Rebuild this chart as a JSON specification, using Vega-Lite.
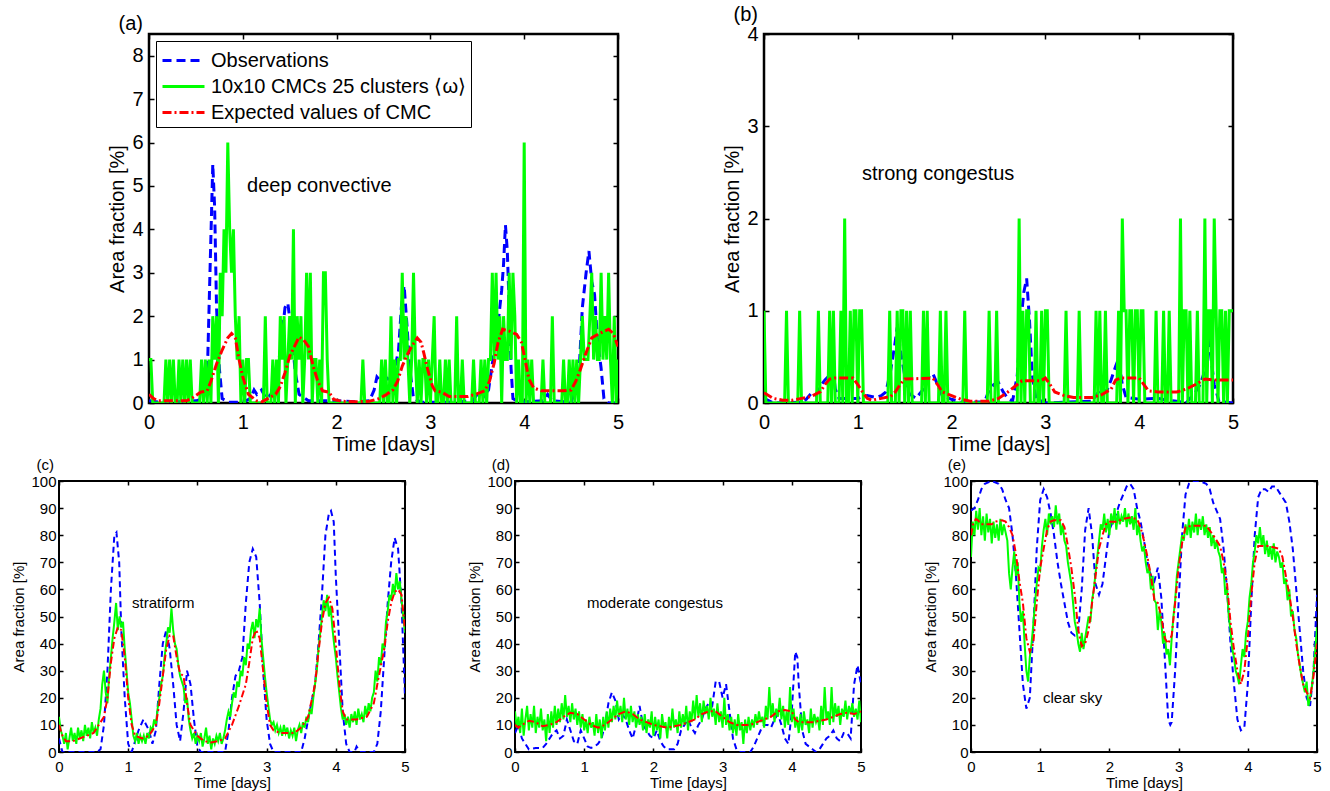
{
"$schema":"https://vega.github.io/schema/vega-lite/v6.json",
"background":"white",
"padding":{"left":10,"top":3,"right":0,"bottom":0},
"config":{"font":"Liberation Sans","view":{"stroke":"black","strokeWidth":2},
"axis":{"domain":false,"grid":false,"tickColor":"black","labelColor":"black","titleColor":"black","labelFont":"Liberation Sans","titleFont":"Liberation Sans","titleFontWeight":"normal","labelOverlap":false,"labelFlush":false,"tickWidth":1.5},
"title":{"font":"Liberation Sans","fontWeight":"normal","color":"black"},
"text":{"font":"Liberation Sans"}},
"datasets":{
"a":[
{"s":"O","t":0,"v":0.05},{"s":"O","t":0.1,"v":0.02},{"s":"O","t":0.3,"v":0.03},{"s":"O","t":0.5,"v":0.05},{"s":"O","t":0.58,"v":0.1},{"s":"O","t":0.62,"v":0.5},{"s":"O","t":0.65,"v":3},{"s":"O","t":0.68,"v":5.5},{"s":"O","t":0.7,"v":4.5},{"s":"O","t":0.72,"v":2.2},{"s":"O","t":0.75,"v":0.8},{"s":"O","t":0.78,"v":0.1},{"s":"O","t":0.85,"v":0.02},{"s":"O","t":1.0,"v":0.02},{"s":"O","t":1.08,"v":0.1},{"s":"O","t":1.12,"v":0.3},{"s":"O","t":1.15,"v":0.2},{"s":"O","t":1.2,"v":0.3},{"s":"O","t":1.25,"v":0.1},{"s":"O","t":1.3,"v":0.2},{"s":"O","t":1.35,"v":0.6},{"s":"O","t":1.4,"v":1.2},{"s":"O","t":1.45,"v":2.2},{"s":"O","t":1.48,"v":2.3},{"s":"O","t":1.52,"v":1.6},{"s":"O","t":1.56,"v":0.7},{"s":"O","t":1.6,"v":0.2},{"s":"O","t":1.7,"v":0.05},{"s":"O","t":2.0,"v":0.05},{"s":"O","t":2.2,"v":0.03},{"s":"O","t":2.35,"v":0.05},{"s":"O","t":2.4,"v":0.3},{"s":"O","t":2.43,"v":0.6},{"s":"O","t":2.47,"v":0.5},{"s":"O","t":2.52,"v":0.6},{"s":"O","t":2.58,"v":0.5},{"s":"O","t":2.62,"v":0.8},{"s":"O","t":2.66,"v":1.2},{"s":"O","t":2.69,"v":2.2},{"s":"O","t":2.72,"v":2.7},{"s":"O","t":2.75,"v":1.8},{"s":"O","t":2.78,"v":0.8},{"s":"O","t":2.82,"v":0.1},{"s":"O","t":2.9,"v":0.02},{"s":"O","t":3.2,"v":0.02},{"s":"O","t":3.45,"v":0.05},{"s":"O","t":3.5,"v":0.2},{"s":"O","t":3.53,"v":0.3},{"s":"O","t":3.57,"v":0.15},{"s":"O","t":3.62,"v":0.3},{"s":"O","t":3.66,"v":0.9},{"s":"O","t":3.7,"v":1.5},{"s":"O","t":3.73,"v":2.0},{"s":"O","t":3.76,"v":2.6},{"s":"O","t":3.78,"v":3.2},{"s":"O","t":3.8,"v":4.1},{"s":"O","t":3.82,"v":3.5},{"s":"O","t":3.84,"v":2.2},{"s":"O","t":3.86,"v":0.8},{"s":"O","t":3.88,"v":0.1},{"s":"O","t":3.95,"v":0.02},{"s":"O","t":4.2,"v":0.05},{"s":"O","t":4.25,"v":0.2},{"s":"O","t":4.3,"v":0.05},{"s":"O","t":4.5,"v":0.02},{"s":"O","t":4.58,"v":0.5},{"s":"O","t":4.62,"v":2.2},{"s":"O","t":4.66,"v":3.0},{"s":"O","t":4.69,"v":3.5},{"s":"O","t":4.72,"v":2.8},{"s":"O","t":4.75,"v":2.5},{"s":"O","t":4.78,"v":1.5},{"s":"O","t":4.82,"v":0.8},{"s":"O","t":4.85,"v":0.1},{"s":"O","t":4.9,"v":0},{"s":"O","t":5.0,"v":0},
{"s":"C","t":0,"v":1},{"s":"C","t":0.02,"v":1},{"s":"C","t":0.04,"v":0},{"s":"C","t":0.16,"v":0},{"s":"C","t":0.18,"v":1},{"s":"C","t":0.2,"v":0},{"s":"C","t":0.22,"v":1},{"s":"C","t":0.24,"v":0},{"s":"C","t":0.26,"v":1},{"s":"C","t":0.28,"v":0},{"s":"C","t":0.3,"v":0},{"s":"C","t":0.32,"v":1},{"s":"C","t":0.34,"v":0},{"s":"C","t":0.36,"v":1},{"s":"C","t":0.38,"v":0},{"s":"C","t":0.4,"v":1},{"s":"C","t":0.42,"v":0},{"s":"C","t":0.44,"v":1},{"s":"C","t":0.46,"v":0},{"s":"C","t":0.54,"v":0},{"s":"C","t":0.56,"v":1},{"s":"C","t":0.58,"v":0},{"s":"C","t":0.6,"v":1},{"s":"C","t":0.62,"v":0},{"s":"C","t":0.64,"v":1},{"s":"C","t":0.66,"v":0},{"s":"C","t":0.68,"v":2},{"s":"C","t":0.7,"v":1},{"s":"C","t":0.72,"v":2},{"s":"C","t":0.74,"v":0},{"s":"C","t":0.76,"v":3},{"s":"C","t":0.78,"v":2},{"s":"C","t":0.8,"v":4},{"s":"C","t":0.82,"v":3},{"s":"C","t":0.84,"v":6},{"s":"C","t":0.86,"v":4},{"s":"C","t":0.88,"v":3},{"s":"C","t":0.9,"v":4},{"s":"C","t":0.92,"v":2},{"s":"C","t":0.94,"v":1},{"s":"C","t":0.96,"v":2},{"s":"C","t":0.98,"v":0},{"s":"C","t":1.0,"v":1},{"s":"C","t":1.02,"v":0},{"s":"C","t":1.04,"v":1},{"s":"C","t":1.06,"v":1},{"s":"C","t":1.08,"v":0},{"s":"C","t":1.22,"v":0},{"s":"C","t":1.24,"v":2},{"s":"C","t":1.26,"v":0},{"s":"C","t":1.3,"v":0},{"s":"C","t":1.32,"v":1},{"s":"C","t":1.34,"v":0},{"s":"C","t":1.36,"v":1},{"s":"C","t":1.38,"v":0},{"s":"C","t":1.4,"v":2},{"s":"C","t":1.42,"v":1},{"s":"C","t":1.44,"v":2},{"s":"C","t":1.46,"v":0},{"s":"C","t":1.48,"v":1},{"s":"C","t":1.5,"v":2},{"s":"C","t":1.52,"v":1},{"s":"C","t":1.54,"v":4},{"s":"C","t":1.56,"v":0},{"s":"C","t":1.58,"v":2},{"s":"C","t":1.6,"v":1},{"s":"C","t":1.62,"v":2},{"s":"C","t":1.64,"v":0},{"s":"C","t":1.66,"v":1},{"s":"C","t":1.68,"v":3},{"s":"C","t":1.7,"v":1},{"s":"C","t":1.72,"v":3},{"s":"C","t":1.74,"v":0},{"s":"C","t":1.76,"v":1},{"s":"C","t":1.78,"v":1},{"s":"C","t":1.8,"v":0},{"s":"C","t":1.82,"v":1},{"s":"C","t":1.84,"v":0},{"s":"C","t":1.86,"v":3},{"s":"C","t":1.88,"v":3},{"s":"C","t":1.9,"v":1},{"s":"C","t":1.92,"v":0},{"s":"C","t":2.26,"v":0},{"s":"C","t":2.28,"v":1},{"s":"C","t":2.3,"v":0},{"s":"C","t":2.46,"v":0},{"s":"C","t":2.48,"v":1},{"s":"C","t":2.5,"v":0},{"s":"C","t":2.52,"v":1},{"s":"C","t":2.54,"v":0},{"s":"C","t":2.56,"v":0},{"s":"C","t":2.58,"v":2},{"s":"C","t":2.6,"v":0},{"s":"C","t":2.62,"v":1},{"s":"C","t":2.64,"v":0},{"s":"C","t":2.66,"v":1},{"s":"C","t":2.68,"v":1},{"s":"C","t":2.7,"v":3},{"s":"C","t":2.72,"v":1},{"s":"C","t":2.74,"v":2},{"s":"C","t":2.76,"v":1},{"s":"C","t":2.78,"v":0},{"s":"C","t":2.8,"v":1},{"s":"C","t":2.82,"v":3},{"s":"C","t":2.84,"v":1},{"s":"C","t":2.86,"v":0},{"s":"C","t":2.88,"v":1},{"s":"C","t":2.9,"v":0},{"s":"C","t":2.92,"v":1},{"s":"C","t":2.94,"v":1},{"s":"C","t":2.96,"v":0},{"s":"C","t":2.98,"v":1},{"s":"C","t":3.0,"v":0},{"s":"C","t":3.02,"v":1},{"s":"C","t":3.04,"v":2},{"s":"C","t":3.06,"v":0},{"s":"C","t":3.08,"v":0},{"s":"C","t":3.1,"v":1},{"s":"C","t":3.12,"v":0},{"s":"C","t":3.14,"v":0},{"s":"C","t":3.16,"v":1},{"s":"C","t":3.18,"v":0},{"s":"C","t":3.2,"v":1},{"s":"C","t":3.22,"v":0},{"s":"C","t":3.26,"v":0},{"s":"C","t":3.28,"v":2},{"s":"C","t":3.3,"v":0},{"s":"C","t":3.32,"v":0},{"s":"C","t":3.34,"v":1},{"s":"C","t":3.36,"v":0},{"s":"C","t":3.44,"v":0},{"s":"C","t":3.46,"v":1},{"s":"C","t":3.48,"v":0},{"s":"C","t":3.52,"v":0},{"s":"C","t":3.54,"v":1},{"s":"C","t":3.56,"v":0},{"s":"C","t":3.58,"v":1},{"s":"C","t":3.6,"v":0},{"s":"C","t":3.62,"v":1},{"s":"C","t":3.64,"v":1},{"s":"C","t":3.66,"v":3},{"s":"C","t":3.68,"v":1},{"s":"C","t":3.7,"v":3},{"s":"C","t":3.72,"v":1},{"s":"C","t":3.74,"v":2},{"s":"C","t":3.76,"v":0},{"s":"C","t":3.78,"v":2},{"s":"C","t":3.8,"v":1},{"s":"C","t":3.82,"v":1},{"s":"C","t":3.84,"v":3},{"s":"C","t":3.86,"v":1},{"s":"C","t":3.88,"v":3},{"s":"C","t":3.9,"v":2},{"s":"C","t":3.92,"v":0},{"s":"C","t":3.94,"v":1},{"s":"C","t":3.96,"v":0},{"s":"C","t":3.98,"v":0},{"s":"C","t":4.0,"v":6},{"s":"C","t":4.02,"v":0},{"s":"C","t":4.04,"v":1},{"s":"C","t":4.06,"v":0},{"s":"C","t":4.08,"v":1},{"s":"C","t":4.1,"v":0},{"s":"C","t":4.18,"v":0},{"s":"C","t":4.2,"v":1},{"s":"C","t":4.22,"v":0},{"s":"C","t":4.28,"v":0},{"s":"C","t":4.3,"v":2},{"s":"C","t":4.32,"v":0},{"s":"C","t":4.4,"v":0},{"s":"C","t":4.42,"v":1},{"s":"C","t":4.44,"v":0},{"s":"C","t":4.46,"v":0},{"s":"C","t":4.48,"v":1},{"s":"C","t":4.5,"v":0},{"s":"C","t":4.52,"v":1},{"s":"C","t":4.54,"v":0},{"s":"C","t":4.56,"v":1},{"s":"C","t":4.58,"v":0},{"s":"C","t":4.6,"v":1},{"s":"C","t":4.62,"v":2},{"s":"C","t":4.64,"v":1},{"s":"C","t":4.66,"v":1},{"s":"C","t":4.68,"v":1},{"s":"C","t":4.7,"v":2},{"s":"C","t":4.72,"v":3},{"s":"C","t":4.74,"v":1},{"s":"C","t":4.76,"v":2},{"s":"C","t":4.78,"v":1},{"s":"C","t":4.8,"v":1},{"s":"C","t":4.82,"v":3},{"s":"C","t":4.84,"v":1},{"s":"C","t":4.86,"v":2},{"s":"C","t":4.88,"v":1},{"s":"C","t":4.9,"v":3},{"s":"C","t":4.92,"v":1},{"s":"C","t":4.94,"v":0},{"s":"C","t":4.96,"v":2},{"s":"C","t":4.98,"v":0},{"s":"C","t":5.0,"v":1},
{"s":"E","t":0,"v":0.2},{"s":"E","t":0.05,"v":0.1},{"s":"E","t":0.1,"v":0.05},{"s":"E","t":0.4,"v":0.05},{"s":"E","t":0.45,"v":0.1},{"s":"E","t":0.55,"v":0.25},{"s":"E","t":0.62,"v":0.28},{"s":"E","t":0.66,"v":0.5},{"s":"E","t":0.72,"v":0.9},{"s":"E","t":0.78,"v":1.22},{"s":"E","t":0.84,"v":1.5},{"s":"E","t":0.88,"v":1.6},{"s":"E","t":0.92,"v":1.5},{"s":"E","t":0.96,"v":1.0},{"s":"E","t":1.0,"v":0.6},{"s":"E","t":1.03,"v":0.4},{"s":"E","t":1.06,"v":0.2},{"s":"E","t":1.15,"v":0.05},{"s":"E","t":1.2,"v":0.02},{"s":"E","t":1.28,"v":0.12},{"s":"E","t":1.35,"v":0.2},{"s":"E","t":1.4,"v":0.38},{"s":"E","t":1.45,"v":0.7},{"s":"E","t":1.5,"v":1.08},{"s":"E","t":1.55,"v":1.3},{"s":"E","t":1.6,"v":1.52},{"s":"E","t":1.65,"v":1.45},{"s":"E","t":1.7,"v":1.3},{"s":"E","t":1.75,"v":0.85},{"s":"E","t":1.8,"v":0.5},{"s":"E","t":1.85,"v":0.28},{"s":"E","t":1.92,"v":0.25},{"s":"E","t":1.97,"v":0.08},{"s":"E","t":2.05,"v":0.04},{"s":"E","t":2.2,"v":0.03},{"s":"E","t":2.35,"v":0.04},{"s":"E","t":2.45,"v":0.1},{"s":"E","t":2.52,"v":0.18},{"s":"E","t":2.6,"v":0.3},{"s":"E","t":2.65,"v":0.5},{"s":"E","t":2.7,"v":0.85},{"s":"E","t":2.75,"v":1.1},{"s":"E","t":2.8,"v":1.3},{"s":"E","t":2.86,"v":1.5},{"s":"E","t":2.9,"v":1.4},{"s":"E","t":2.93,"v":1.15},{"s":"E","t":2.97,"v":0.78},{"s":"E","t":3.02,"v":0.4},{"s":"E","t":3.05,"v":0.28},{"s":"E","t":3.12,"v":0.25},{"s":"E","t":3.2,"v":0.15},{"s":"E","t":3.4,"v":0.15},{"s":"E","t":3.48,"v":0.2},{"s":"E","t":3.58,"v":0.28},{"s":"E","t":3.63,"v":0.5},{"s":"E","t":3.68,"v":0.92},{"s":"E","t":3.72,"v":1.38},{"s":"E","t":3.77,"v":1.7},{"s":"E","t":3.85,"v":1.65},{"s":"E","t":3.92,"v":1.58},{"s":"E","t":3.97,"v":1.4},{"s":"E","t":4.0,"v":1.1},{"s":"E","t":4.05,"v":0.55},{"s":"E","t":4.1,"v":0.35},{"s":"E","t":4.18,"v":0.28},{"s":"E","t":4.42,"v":0.28},{"s":"E","t":4.5,"v":0.3},{"s":"E","t":4.55,"v":0.5},{"s":"E","t":4.6,"v":0.78},{"s":"E","t":4.65,"v":1.1},{"s":"E","t":4.72,"v":1.5},{"s":"E","t":4.8,"v":1.6},{"s":"E","t":4.9,"v":1.7},{"s":"E","t":4.95,"v":1.6},{"s":"E","t":5.0,"v":1.3}
],
"b":[
{"s":"O","t":0,"v":0.05},{"s":"O","t":0.1,"v":0},{"s":"O","t":0.4,"v":0.01},{"s":"O","t":0.45,"v":0.04},{"s":"O","t":0.5,"v":0.1},{"s":"O","t":0.55,"v":0.08},{"s":"O","t":0.6,"v":0.18},{"s":"O","t":0.65,"v":0.25},{"s":"O","t":0.7,"v":0.3},{"s":"O","t":0.73,"v":0.42},{"s":"O","t":0.76,"v":0.15},{"s":"O","t":0.8,"v":0.05},{"s":"O","t":1.0,"v":0.05},{"s":"O","t":1.1,"v":0.08},{"s":"O","t":1.2,"v":0.06},{"s":"O","t":1.25,"v":0.08},{"s":"O","t":1.3,"v":0.12},{"s":"O","t":1.35,"v":0.35},{"s":"O","t":1.39,"v":0.6},{"s":"O","t":1.42,"v":0.82},{"s":"O","t":1.45,"v":0.6},{"s":"O","t":1.5,"v":0.3},{"s":"O","t":1.55,"v":0.1},{"s":"O","t":1.62,"v":0.05},{"s":"O","t":1.7,"v":0.15},{"s":"O","t":1.75,"v":0.28},{"s":"O","t":1.8,"v":0.32},{"s":"O","t":1.85,"v":0.2},{"s":"O","t":1.9,"v":0.08},{"s":"O","t":2.0,"v":0.04},{"s":"O","t":2.1,"v":0.01},{"s":"O","t":2.35,"v":0.01},{"s":"O","t":2.4,"v":0.14},{"s":"O","t":2.45,"v":0.2},{"s":"O","t":2.5,"v":0.22},{"s":"O","t":2.55,"v":0.12},{"s":"O","t":2.6,"v":0.05},{"s":"O","t":2.65,"v":0.02},{"s":"O","t":2.7,"v":0.3},{"s":"O","t":2.74,"v":0.9},{"s":"O","t":2.77,"v":1.2},{"s":"O","t":2.8,"v":1.35},{"s":"O","t":2.83,"v":0.9},{"s":"O","t":2.86,"v":0.3},{"s":"O","t":2.9,"v":0.05},{"s":"O","t":3.0,"v":0},{"s":"O","t":3.5,"v":0.02},{"s":"O","t":3.55,"v":0.1},{"s":"O","t":3.6,"v":0.16},{"s":"O","t":3.65,"v":0.12},{"s":"O","t":3.7,"v":0.25},{"s":"O","t":3.75,"v":0.4},{"s":"O","t":3.78,"v":0.48},{"s":"O","t":3.82,"v":0.2},{"s":"O","t":3.86,"v":0.06},{"s":"O","t":4.0,"v":0.04},{"s":"O","t":4.2,"v":0.05},{"s":"O","t":4.3,"v":0.03},{"s":"O","t":4.4,"v":0.02},{"s":"O","t":4.5,"v":0},{"s":"O","t":4.6,"v":0.12},{"s":"O","t":4.65,"v":0.2},{"s":"O","t":4.7,"v":0.35},{"s":"O","t":4.74,"v":0.7},{"s":"O","t":4.77,"v":0.45},{"s":"O","t":4.8,"v":0.2},{"s":"O","t":4.85,"v":0.02},{"s":"O","t":5.0,"v":0},
{"s":"C","t":0,"v":1},{"s":"C","t":0.02,"v":0},{"s":"C","t":0.22,"v":0},{"s":"C","t":0.24,"v":1},{"s":"C","t":0.26,"v":0},{"s":"C","t":0.36,"v":0},{"s":"C","t":0.38,"v":1},{"s":"C","t":0.4,"v":0},{"s":"C","t":0.56,"v":0},{"s":"C","t":0.58,"v":1},{"s":"C","t":0.6,"v":0},{"s":"C","t":0.68,"v":0},{"s":"C","t":0.7,"v":1},{"s":"C","t":0.72,"v":0},{"s":"C","t":0.74,"v":1},{"s":"C","t":0.76,"v":0},{"s":"C","t":0.8,"v":0},{"s":"C","t":0.82,"v":1},{"s":"C","t":0.84,"v":0},{"s":"C","t":0.86,"v":2},{"s":"C","t":0.88,"v":0},{"s":"C","t":0.9,"v":0},{"s":"C","t":0.92,"v":1},{"s":"C","t":0.94,"v":0},{"s":"C","t":0.96,"v":1},{"s":"C","t":0.98,"v":1},{"s":"C","t":1.0,"v":0},{"s":"C","t":1.02,"v":1},{"s":"C","t":1.04,"v":1},{"s":"C","t":1.06,"v":0},{"s":"C","t":1.32,"v":0},{"s":"C","t":1.34,"v":1},{"s":"C","t":1.36,"v":0},{"s":"C","t":1.4,"v":0},{"s":"C","t":1.42,"v":1},{"s":"C","t":1.44,"v":0},{"s":"C","t":1.46,"v":1},{"s":"C","t":1.48,"v":1},{"s":"C","t":1.5,"v":0},{"s":"C","t":1.52,"v":1},{"s":"C","t":1.54,"v":0},{"s":"C","t":1.56,"v":1},{"s":"C","t":1.58,"v":0},{"s":"C","t":1.68,"v":0},{"s":"C","t":1.7,"v":1},{"s":"C","t":1.72,"v":0},{"s":"C","t":1.74,"v":1},{"s":"C","t":1.76,"v":0},{"s":"C","t":1.86,"v":0},{"s":"C","t":1.88,"v":1},{"s":"C","t":1.9,"v":0},{"s":"C","t":1.92,"v":0},{"s":"C","t":1.94,"v":1},{"s":"C","t":1.96,"v":0},{"s":"C","t":2.12,"v":0},{"s":"C","t":2.14,"v":1},{"s":"C","t":2.16,"v":0},{"s":"C","t":2.38,"v":0},{"s":"C","t":2.4,"v":1},{"s":"C","t":2.42,"v":0},{"s":"C","t":2.46,"v":0},{"s":"C","t":2.48,"v":1},{"s":"C","t":2.5,"v":0},{"s":"C","t":2.7,"v":0},{"s":"C","t":2.72,"v":2},{"s":"C","t":2.74,"v":0},{"s":"C","t":2.76,"v":1},{"s":"C","t":2.78,"v":0},{"s":"C","t":2.8,"v":1},{"s":"C","t":2.82,"v":1},{"s":"C","t":2.84,"v":0},{"s":"C","t":2.88,"v":0},{"s":"C","t":2.9,"v":1},{"s":"C","t":2.92,"v":0},{"s":"C","t":2.94,"v":0},{"s":"C","t":2.96,"v":1},{"s":"C","t":2.98,"v":0},{"s":"C","t":3.0,"v":1},{"s":"C","t":3.02,"v":1},{"s":"C","t":3.04,"v":0},{"s":"C","t":3.2,"v":0},{"s":"C","t":3.22,"v":1},{"s":"C","t":3.24,"v":0},{"s":"C","t":3.34,"v":0},{"s":"C","t":3.36,"v":1},{"s":"C","t":3.38,"v":0},{"s":"C","t":3.52,"v":0},{"s":"C","t":3.54,"v":1},{"s":"C","t":3.56,"v":0},{"s":"C","t":3.58,"v":1},{"s":"C","t":3.6,"v":0},{"s":"C","t":3.62,"v":0},{"s":"C","t":3.64,"v":1},{"s":"C","t":3.66,"v":0},{"s":"C","t":3.76,"v":0},{"s":"C","t":3.78,"v":1},{"s":"C","t":3.8,"v":0},{"s":"C","t":3.82,"v":2},{"s":"C","t":3.84,"v":1},{"s":"C","t":3.86,"v":1},{"s":"C","t":3.88,"v":0},{"s":"C","t":3.9,"v":1},{"s":"C","t":3.92,"v":1},{"s":"C","t":3.94,"v":0},{"s":"C","t":3.96,"v":1},{"s":"C","t":3.98,"v":1},{"s":"C","t":4.0,"v":0},{"s":"C","t":4.02,"v":1},{"s":"C","t":4.04,"v":1},{"s":"C","t":4.06,"v":0},{"s":"C","t":4.16,"v":0},{"s":"C","t":4.18,"v":1},{"s":"C","t":4.2,"v":0},{"s":"C","t":4.24,"v":0},{"s":"C","t":4.26,"v":1},{"s":"C","t":4.28,"v":0},{"s":"C","t":4.3,"v":0},{"s":"C","t":4.32,"v":1},{"s":"C","t":4.34,"v":0},{"s":"C","t":4.42,"v":0},{"s":"C","t":4.44,"v":2},{"s":"C","t":4.46,"v":0},{"s":"C","t":4.48,"v":1},{"s":"C","t":4.5,"v":1},{"s":"C","t":4.52,"v":0},{"s":"C","t":4.54,"v":1},{"s":"C","t":4.56,"v":0},{"s":"C","t":4.6,"v":0},{"s":"C","t":4.62,"v":1},{"s":"C","t":4.64,"v":0},{"s":"C","t":4.68,"v":0},{"s":"C","t":4.7,"v":2},{"s":"C","t":4.72,"v":0},{"s":"C","t":4.74,"v":1},{"s":"C","t":4.76,"v":1},{"s":"C","t":4.78,"v":0},{"s":"C","t":4.8,"v":2},{"s":"C","t":4.82,"v":1},{"s":"C","t":4.84,"v":0},{"s":"C","t":4.86,"v":1},{"s":"C","t":4.88,"v":1},{"s":"C","t":4.9,"v":0},{"s":"C","t":4.92,"v":1},{"s":"C","t":4.94,"v":0},{"s":"C","t":4.96,"v":1},{"s":"C","t":4.98,"v":1},{"s":"C","t":5.0,"v":1},
{"s":"E","t":0,"v":0.11},{"s":"E","t":0.1,"v":0.05},{"s":"E","t":0.2,"v":0.03},{"s":"E","t":0.3,"v":0.03},{"s":"E","t":0.4,"v":0.05},{"s":"E","t":0.5,"v":0.07},{"s":"E","t":0.6,"v":0.12},{"s":"E","t":0.65,"v":0.2},{"s":"E","t":0.7,"v":0.26},{"s":"E","t":0.75,"v":0.27},{"s":"E","t":0.95,"v":0.27},{"s":"E","t":1.0,"v":0.2},{"s":"E","t":1.05,"v":0.12},{"s":"E","t":1.1,"v":0.05},{"s":"E","t":1.15,"v":0.03},{"s":"E","t":1.25,"v":0.05},{"s":"E","t":1.35,"v":0.07},{"s":"E","t":1.4,"v":0.12},{"s":"E","t":1.45,"v":0.2},{"s":"E","t":1.5,"v":0.26},{"s":"E","t":1.8,"v":0.27},{"s":"E","t":1.85,"v":0.2},{"s":"E","t":1.9,"v":0.12},{"s":"E","t":2.0,"v":0.08},{"s":"E","t":2.1,"v":0.04},{"s":"E","t":2.2,"v":0.02},{"s":"E","t":2.4,"v":0.02},{"s":"E","t":2.5,"v":0.05},{"s":"E","t":2.6,"v":0.12},{"s":"E","t":2.7,"v":0.2},{"s":"E","t":2.75,"v":0.24},{"s":"E","t":2.95,"v":0.24},{"s":"E","t":3.0,"v":0.27},{"s":"E","t":3.05,"v":0.2},{"s":"E","t":3.1,"v":0.12},{"s":"E","t":3.2,"v":0.08},{"s":"E","t":3.3,"v":0.06},{"s":"E","t":3.5,"v":0.06},{"s":"E","t":3.6,"v":0.09},{"s":"E","t":3.7,"v":0.15},{"s":"E","t":3.75,"v":0.25},{"s":"E","t":3.8,"v":0.27},{"s":"E","t":4.0,"v":0.27},{"s":"E","t":4.05,"v":0.2},{"s":"E","t":4.1,"v":0.13},{"s":"E","t":4.2,"v":0.12},{"s":"E","t":4.4,"v":0.12},{"s":"E","t":4.5,"v":0.15},{"s":"E","t":4.6,"v":0.2},{"s":"E","t":4.7,"v":0.26},{"s":"E","t":4.8,"v":0.25},{"s":"E","t":5.0,"v":0.25}
],
"c":[
{"s":"O","t":0,"v":5},{"s":"O","t":0.05,"v":0},{"s":"O","t":0.55,"v":0},{"s":"O","t":0.6,"v":1},{"s":"O","t":0.65,"v":10},{"s":"O","t":0.7,"v":30},{"s":"O","t":0.75,"v":60},{"s":"O","t":0.8,"v":80},{"s":"O","t":0.83,"v":81},{"s":"O","t":0.87,"v":70},{"s":"O","t":0.9,"v":45},{"s":"O","t":0.95,"v":20},{"s":"O","t":1.0,"v":3},{"s":"O","t":1.05,"v":0},{"s":"O","t":1.1,"v":4},{"s":"O","t":1.15,"v":8},{"s":"O","t":1.22,"v":12},{"s":"O","t":1.3,"v":8},{"s":"O","t":1.35,"v":3},{"s":"O","t":1.4,"v":8},{"s":"O","t":1.45,"v":25},{"s":"O","t":1.5,"v":40},{"s":"O","t":1.55,"v":45},{"s":"O","t":1.6,"v":38},{"s":"O","t":1.65,"v":25},{"s":"O","t":1.7,"v":10},{"s":"O","t":1.75,"v":4},{"s":"O","t":1.8,"v":15},{"s":"O","t":1.85,"v":30},{"s":"O","t":1.9,"v":25},{"s":"O","t":1.95,"v":12},{"s":"O","t":2.0,"v":2},{"s":"O","t":2.05,"v":0},{"s":"O","t":2.4,"v":0},{"s":"O","t":2.45,"v":8},{"s":"O","t":2.5,"v":20},{"s":"O","t":2.55,"v":28},{"s":"O","t":2.6,"v":30},{"s":"O","t":2.65,"v":35},{"s":"O","t":2.7,"v":55},{"s":"O","t":2.75,"v":70},{"s":"O","t":2.8,"v":75},{"s":"O","t":2.85,"v":72},{"s":"O","t":2.9,"v":55},{"s":"O","t":2.95,"v":30},{"s":"O","t":3.0,"v":12},{"s":"O","t":3.05,"v":3},{"s":"O","t":3.1,"v":0},{"s":"O","t":3.5,"v":0},{"s":"O","t":3.55,"v":5},{"s":"O","t":3.6,"v":12},{"s":"O","t":3.7,"v":25},{"s":"O","t":3.75,"v":40},{"s":"O","t":3.8,"v":58},{"s":"O","t":3.85,"v":80},{"s":"O","t":3.9,"v":88},{"s":"O","t":3.93,"v":89},{"s":"O","t":3.97,"v":85},{"s":"O","t":4.0,"v":65},{"s":"O","t":4.05,"v":40},{"s":"O","t":4.1,"v":15},{"s":"O","t":4.15,"v":3},{"s":"O","t":4.2,"v":0},{"s":"O","t":4.27,"v":0},{"s":"O","t":4.3,"v":2},{"s":"O","t":4.35,"v":0},{"s":"O","t":4.55,"v":0},{"s":"O","t":4.6,"v":3},{"s":"O","t":4.65,"v":15},{"s":"O","t":4.7,"v":35},{"s":"O","t":4.75,"v":55},{"s":"O","t":4.8,"v":70},{"s":"O","t":4.85,"v":79},{"s":"O","t":4.9,"v":75},{"s":"O","t":4.95,"v":55},{"s":"O","t":5.0,"v":20},
{"s":"C","t":0,"v":13},{"s":"C","t":0.025,"v":8},{"s":"C","t":0.05,"v":6},{"s":"C","t":0.075,"v":3},{"s":"C","t":0.1,"v":7},{"s":"C","t":0.125,"v":1},{"s":"C","t":0.15,"v":5},{"s":"C","t":0.175,"v":9},{"s":"C","t":0.2,"v":4},{"s":"C","t":0.225,"v":7},{"s":"C","t":0.25,"v":3},{"s":"C","t":0.275,"v":9},{"s":"C","t":0.3,"v":5},{"s":"C","t":0.325,"v":8},{"s":"C","t":0.35,"v":4},{"s":"C","t":0.375,"v":10},{"s":"C","t":0.4,"v":6},{"s":"C","t":0.425,"v":9},{"s":"C","t":0.45,"v":5},{"s":"C","t":0.475,"v":11},{"s":"C","t":0.5,"v":7},{"s":"C","t":0.525,"v":9},{"s":"C","t":0.55,"v":6},{"s":"C","t":0.575,"v":12},{"s":"C","t":0.6,"v":16},{"s":"C","t":0.625,"v":25},{"s":"C","t":0.65,"v":30},{"s":"C","t":0.675,"v":22},{"s":"C","t":0.7,"v":18},{"s":"C","t":0.725,"v":28},{"s":"C","t":0.75,"v":35},{"s":"C","t":0.775,"v":42},{"s":"C","t":0.8,"v":48},{"s":"C","t":0.825,"v":55},{"s":"C","t":0.85,"v":45},{"s":"C","t":0.875,"v":50},{"s":"C","t":0.9,"v":46},{"s":"C","t":0.925,"v":48},{"s":"C","t":0.95,"v":38},{"s":"C","t":0.975,"v":30},{"s":"C","t":1.0,"v":22},{"s":"C","t":1.025,"v":18},{"s":"C","t":1.05,"v":12},{"s":"C","t":1.075,"v":6},{"s":"C","t":1.1,"v":4},{"s":"C","t":1.125,"v":7},{"s":"C","t":1.15,"v":3},{"s":"C","t":1.175,"v":6},{"s":"C","t":1.2,"v":4},{"s":"C","t":1.225,"v":6},{"s":"C","t":1.25,"v":3},{"s":"C","t":1.275,"v":7},{"s":"C","t":1.3,"v":5},{"s":"C","t":1.325,"v":9},{"s":"C","t":1.35,"v":8},{"s":"C","t":1.375,"v":12},{"s":"C","t":1.4,"v":10},{"s":"C","t":1.425,"v":16},{"s":"C","t":1.45,"v":20},{"s":"C","t":1.475,"v":25},{"s":"C","t":1.5,"v":28},{"s":"C","t":1.525,"v":35},{"s":"C","t":1.55,"v":40},{"s":"C","t":1.575,"v":46},{"s":"C","t":1.6,"v":44},{"s":"C","t":1.625,"v":53},{"s":"C","t":1.65,"v":45},{"s":"C","t":1.675,"v":40},{"s":"C","t":1.7,"v":38},{"s":"C","t":1.725,"v":32},{"s":"C","t":1.75,"v":28},{"s":"C","t":1.775,"v":26},{"s":"C","t":1.8,"v":24},{"s":"C","t":1.825,"v":18},{"s":"C","t":1.85,"v":20},{"s":"C","t":1.875,"v":12},{"s":"C","t":1.9,"v":8},{"s":"C","t":1.925,"v":5},{"s":"C","t":1.95,"v":7},{"s":"C","t":1.975,"v":3},{"s":"C","t":2.0,"v":6},{"s":"C","t":2.025,"v":4},{"s":"C","t":2.05,"v":7},{"s":"C","t":2.075,"v":2},{"s":"C","t":2.1,"v":5},{"s":"C","t":2.125,"v":9},{"s":"C","t":2.15,"v":3},{"s":"C","t":2.175,"v":6},{"s":"C","t":2.2,"v":1},{"s":"C","t":2.225,"v":5},{"s":"C","t":2.25,"v":3},{"s":"C","t":2.275,"v":6},{"s":"C","t":2.3,"v":4},{"s":"C","t":2.325,"v":7},{"s":"C","t":2.35,"v":3},{"s":"C","t":2.375,"v":5},{"s":"C","t":2.4,"v":8},{"s":"C","t":2.425,"v":12},{"s":"C","t":2.45,"v":15},{"s":"C","t":2.475,"v":13},{"s":"C","t":2.5,"v":18},{"s":"C","t":2.525,"v":22},{"s":"C","t":2.55,"v":20},{"s":"C","t":2.575,"v":26},{"s":"C","t":2.6,"v":24},{"s":"C","t":2.625,"v":30},{"s":"C","t":2.65,"v":28},{"s":"C","t":2.675,"v":35},{"s":"C","t":2.7,"v":32},{"s":"C","t":2.725,"v":40},{"s":"C","t":2.75,"v":38},{"s":"C","t":2.775,"v":45},{"s":"C","t":2.8,"v":48},{"s":"C","t":2.825,"v":42},{"s":"C","t":2.85,"v":49},{"s":"C","t":2.875,"v":46},{"s":"C","t":2.9,"v":53},{"s":"C","t":2.925,"v":42},{"s":"C","t":2.95,"v":35},{"s":"C","t":2.975,"v":28},{"s":"C","t":3.0,"v":22},{"s":"C","t":3.025,"v":17},{"s":"C","t":3.05,"v":12},{"s":"C","t":3.075,"v":10},{"s":"C","t":3.1,"v":11},{"s":"C","t":3.125,"v":8},{"s":"C","t":3.15,"v":10},{"s":"C","t":3.175,"v":7},{"s":"C","t":3.2,"v":9},{"s":"C","t":3.225,"v":6},{"s":"C","t":3.25,"v":10},{"s":"C","t":3.275,"v":7},{"s":"C","t":3.3,"v":9},{"s":"C","t":3.325,"v":5},{"s":"C","t":3.35,"v":8},{"s":"C","t":3.375,"v":6},{"s":"C","t":3.4,"v":9},{"s":"C","t":3.425,"v":4},{"s":"C","t":3.45,"v":8},{"s":"C","t":3.475,"v":10},{"s":"C","t":3.5,"v":7},{"s":"C","t":3.525,"v":11},{"s":"C","t":3.55,"v":9},{"s":"C","t":3.575,"v":13},{"s":"C","t":3.6,"v":11},{"s":"C","t":3.625,"v":16},{"s":"C","t":3.65,"v":14},{"s":"C","t":3.675,"v":20},{"s":"C","t":3.7,"v":25},{"s":"C","t":3.725,"v":30},{"s":"C","t":3.75,"v":38},{"s":"C","t":3.775,"v":44},{"s":"C","t":3.8,"v":50},{"s":"C","t":3.825,"v":56},{"s":"C","t":3.85,"v":52},{"s":"C","t":3.875,"v":58},{"s":"C","t":3.9,"v":50},{"s":"C","t":3.925,"v":54},{"s":"C","t":3.95,"v":46},{"s":"C","t":3.975,"v":40},{"s":"C","t":4.0,"v":35},{"s":"C","t":4.025,"v":28},{"s":"C","t":4.05,"v":22},{"s":"C","t":4.075,"v":16},{"s":"C","t":4.1,"v":12},{"s":"C","t":4.125,"v":14},{"s":"C","t":4.15,"v":10},{"s":"C","t":4.175,"v":13},{"s":"C","t":4.2,"v":9},{"s":"C","t":4.225,"v":14},{"s":"C","t":4.25,"v":11},{"s":"C","t":4.275,"v":15},{"s":"C","t":4.3,"v":10},{"s":"C","t":4.325,"v":16},{"s":"C","t":4.35,"v":12},{"s":"C","t":4.375,"v":14},{"s":"C","t":4.4,"v":11},{"s":"C","t":4.425,"v":17},{"s":"C","t":4.45,"v":13},{"s":"C","t":4.475,"v":18},{"s":"C","t":4.5,"v":15},{"s":"C","t":4.525,"v":20},{"s":"C","t":4.55,"v":22},{"s":"C","t":4.575,"v":30},{"s":"C","t":4.6,"v":26},{"s":"C","t":4.625,"v":35},{"s":"C","t":4.65,"v":32},{"s":"C","t":4.675,"v":40},{"s":"C","t":4.7,"v":38},{"s":"C","t":4.725,"v":48},{"s":"C","t":4.75,"v":52},{"s":"C","t":4.775,"v":58},{"s":"C","t":4.8,"v":56},{"s":"C","t":4.825,"v":62},{"s":"C","t":4.85,"v":58},{"s":"C","t":4.875,"v":66},{"s":"C","t":4.9,"v":60},{"s":"C","t":4.925,"v":63},{"s":"C","t":4.95,"v":56},{"s":"C","t":4.975,"v":50},{"s":"C","t":5.0,"v":44},
{"s":"E","t":0,"v":10},{"s":"E","t":0.05,"v":6},{"s":"E","t":0.1,"v":4},{"s":"E","t":0.2,"v":4},{"s":"E","t":0.3,"v":5},{"s":"E","t":0.4,"v":6},{"s":"E","t":0.5,"v":7},{"s":"E","t":0.6,"v":11},{"s":"E","t":0.65,"v":13},{"s":"E","t":0.7,"v":20},{"s":"E","t":0.75,"v":33},{"s":"E","t":0.8,"v":42},{"s":"E","t":0.85,"v":46},{"s":"E","t":0.9,"v":45},{"s":"E","t":0.95,"v":35},{"s":"E","t":1.0,"v":20},{"s":"E","t":1.05,"v":10},{"s":"E","t":1.1,"v":6},{"s":"E","t":1.2,"v":5},{"s":"E","t":1.3,"v":6},{"s":"E","t":1.4,"v":10},{"s":"E","t":1.45,"v":18},{"s":"E","t":1.5,"v":28},{"s":"E","t":1.55,"v":38},{"s":"E","t":1.6,"v":43},{"s":"E","t":1.65,"v":43},{"s":"E","t":1.7,"v":35},{"s":"E","t":1.75,"v":29},{"s":"E","t":1.8,"v":28},{"s":"E","t":1.85,"v":18},{"s":"E","t":1.9,"v":10},{"s":"E","t":2.0,"v":6},{"s":"E","t":2.1,"v":4},{"s":"E","t":2.2,"v":3.5},{"s":"E","t":2.3,"v":4},{"s":"E","t":2.4,"v":5},{"s":"E","t":2.5,"v":10},{"s":"E","t":2.6,"v":17},{"s":"E","t":2.7,"v":25},{"s":"E","t":2.75,"v":33},{"s":"E","t":2.8,"v":42},{"s":"E","t":2.85,"v":45},{"s":"E","t":2.9,"v":42},{"s":"E","t":2.95,"v":30},{"s":"E","t":3.0,"v":18},{"s":"E","t":3.05,"v":10},{"s":"E","t":3.1,"v":8},{"s":"E","t":3.2,"v":7},{"s":"E","t":3.4,"v":7},{"s":"E","t":3.5,"v":9},{"s":"E","t":3.6,"v":13},{"s":"E","t":3.7,"v":25},{"s":"E","t":3.75,"v":37},{"s":"E","t":3.8,"v":48},{"s":"E","t":3.85,"v":55},{"s":"E","t":3.9,"v":57},{"s":"E","t":3.95,"v":53},{"s":"E","t":4.0,"v":40},{"s":"E","t":4.05,"v":25},{"s":"E","t":4.1,"v":15},{"s":"E","t":4.15,"v":12},{"s":"E","t":4.3,"v":12},{"s":"E","t":4.45,"v":13},{"s":"E","t":4.55,"v":18},{"s":"E","t":4.6,"v":25},{"s":"E","t":4.7,"v":38},{"s":"E","t":4.75,"v":48},{"s":"E","t":4.8,"v":55},{"s":"E","t":4.85,"v":59},{"s":"E","t":4.9,"v":60},{"s":"E","t":4.95,"v":58},{"s":"E","t":5.0,"v":45}
],
"d":[
{"s":"O","t":0,"v":7},{"s":"O","t":0.05,"v":10},{"s":"O","t":0.1,"v":5},{"s":"O","t":0.15,"v":3},{"s":"O","t":0.2,"v":1},{"s":"O","t":0.3,"v":1.5},{"s":"O","t":0.4,"v":1.5},{"s":"O","t":0.45,"v":3},{"s":"O","t":0.5,"v":5},{"s":"O","t":0.55,"v":7},{"s":"O","t":0.6,"v":8},{"s":"O","t":0.65,"v":5},{"s":"O","t":0.7,"v":6},{"s":"O","t":0.75,"v":12},{"s":"O","t":0.8,"v":8},{"s":"O","t":0.85,"v":4},{"s":"O","t":0.9,"v":3},{"s":"O","t":0.95,"v":8},{"s":"O","t":1.0,"v":5},{"s":"O","t":1.05,"v":2},{"s":"O","t":1.1,"v":1.5},{"s":"O","t":1.15,"v":2},{"s":"O","t":1.2,"v":3},{"s":"O","t":1.25,"v":5},{"s":"O","t":1.3,"v":10},{"s":"O","t":1.35,"v":18},{"s":"O","t":1.4,"v":22},{"s":"O","t":1.45,"v":19},{"s":"O","t":1.5,"v":12},{"s":"O","t":1.55,"v":14},{"s":"O","t":1.6,"v":12},{"s":"O","t":1.65,"v":8},{"s":"O","t":1.7,"v":5},{"s":"O","t":1.75,"v":10},{"s":"O","t":1.8,"v":17},{"s":"O","t":1.85,"v":10},{"s":"O","t":1.9,"v":8},{"s":"O","t":1.95,"v":6},{"s":"O","t":2.0,"v":5},{"s":"O","t":2.05,"v":8},{"s":"O","t":2.1,"v":4},{"s":"O","t":2.15,"v":2},{"s":"O","t":2.2,"v":1},{"s":"O","t":2.3,"v":1},{"s":"O","t":2.35,"v":3},{"s":"O","t":2.4,"v":8},{"s":"O","t":2.45,"v":10},{"s":"O","t":2.5,"v":12},{"s":"O","t":2.55,"v":9},{"s":"O","t":2.6,"v":7},{"s":"O","t":2.65,"v":10},{"s":"O","t":2.7,"v":12},{"s":"O","t":2.75,"v":16},{"s":"O","t":2.8,"v":18},{"s":"O","t":2.85,"v":17},{"s":"O","t":2.9,"v":26},{"s":"O","t":2.95,"v":26},{"s":"O","t":3.0,"v":20},{"s":"O","t":3.05,"v":25},{"s":"O","t":3.1,"v":15},{"s":"O","t":3.15,"v":5},{"s":"O","t":3.2,"v":1},{"s":"O","t":3.25,"v":0},{"s":"O","t":3.4,"v":0},{"s":"O","t":3.45,"v":2},{"s":"O","t":3.5,"v":5},{"s":"O","t":3.55,"v":8},{"s":"O","t":3.6,"v":10},{"s":"O","t":3.65,"v":10},{"s":"O","t":3.7,"v":9},{"s":"O","t":3.75,"v":12},{"s":"O","t":3.8,"v":14},{"s":"O","t":3.85,"v":10},{"s":"O","t":3.9,"v":5},{"s":"O","t":3.95,"v":3},{"s":"O","t":4.0,"v":15},{"s":"O","t":4.05,"v":37},{"s":"O","t":4.08,"v":35},{"s":"O","t":4.1,"v":25},{"s":"O","t":4.15,"v":8},{"s":"O","t":4.2,"v":3},{"s":"O","t":4.25,"v":2},{"s":"O","t":4.3,"v":1},{"s":"O","t":4.35,"v":0},{"s":"O","t":4.4,"v":1},{"s":"O","t":4.45,"v":3},{"s":"O","t":4.5,"v":5},{"s":"O","t":4.55,"v":6},{"s":"O","t":4.6,"v":8},{"s":"O","t":4.65,"v":5},{"s":"O","t":4.7,"v":4},{"s":"O","t":4.75,"v":7},{"s":"O","t":4.8,"v":7},{"s":"O","t":4.85,"v":5},{"s":"O","t":4.9,"v":25},{"s":"O","t":4.95,"v":32},{"s":"O","t":5.0,"v":25},
{"s":"C","t":0,"v":15},{"s":"C","t":0.025,"v":9},{"s":"C","t":0.05,"v":13},{"s":"C","t":0.075,"v":7},{"s":"C","t":0.1,"v":16},{"s":"C","t":0.125,"v":6},{"s":"C","t":0.15,"v":12},{"s":"C","t":0.175,"v":17},{"s":"C","t":0.2,"v":8},{"s":"C","t":0.225,"v":14},{"s":"C","t":0.25,"v":9},{"s":"C","t":0.275,"v":17},{"s":"C","t":0.3,"v":7},{"s":"C","t":0.325,"v":13},{"s":"C","t":0.35,"v":9},{"s":"C","t":0.375,"v":16},{"s":"C","t":0.4,"v":8},{"s":"C","t":0.425,"v":12},{"s":"C","t":0.45,"v":4},{"s":"C","t":0.475,"v":14},{"s":"C","t":0.5,"v":7},{"s":"C","t":0.525,"v":15},{"s":"C","t":0.55,"v":9},{"s":"C","t":0.575,"v":17},{"s":"C","t":0.6,"v":10},{"s":"C","t":0.625,"v":16},{"s":"C","t":0.65,"v":11},{"s":"C","t":0.675,"v":18},{"s":"C","t":0.7,"v":12},{"s":"C","t":0.725,"v":21},{"s":"C","t":0.75,"v":13},{"s":"C","t":0.775,"v":17},{"s":"C","t":0.8,"v":11},{"s":"C","t":0.825,"v":18},{"s":"C","t":0.85,"v":12},{"s":"C","t":0.875,"v":16},{"s":"C","t":0.9,"v":10},{"s":"C","t":0.925,"v":15},{"s":"C","t":0.95,"v":9},{"s":"C","t":0.975,"v":14},{"s":"C","t":1.0,"v":8},{"s":"C","t":1.025,"v":12},{"s":"C","t":1.05,"v":7},{"s":"C","t":1.075,"v":13},{"s":"C","t":1.1,"v":9},{"s":"C","t":1.125,"v":11},{"s":"C","t":1.15,"v":6},{"s":"C","t":1.175,"v":14},{"s":"C","t":1.2,"v":7},{"s":"C","t":1.225,"v":12},{"s":"C","t":1.25,"v":5},{"s":"C","t":1.275,"v":13},{"s":"C","t":1.3,"v":8},{"s":"C","t":1.325,"v":15},{"s":"C","t":1.35,"v":9},{"s":"C","t":1.375,"v":16},{"s":"C","t":1.4,"v":11},{"s":"C","t":1.425,"v":17},{"s":"C","t":1.45,"v":12},{"s":"C","t":1.475,"v":19},{"s":"C","t":1.5,"v":13},{"s":"C","t":1.525,"v":17},{"s":"C","t":1.55,"v":11},{"s":"C","t":1.575,"v":20},{"s":"C","t":1.6,"v":12},{"s":"C","t":1.625,"v":16},{"s":"C","t":1.65,"v":10},{"s":"C","t":1.675,"v":17},{"s":"C","t":1.7,"v":11},{"s":"C","t":1.725,"v":15},{"s":"C","t":1.75,"v":9},{"s":"C","t":1.775,"v":14},{"s":"C","t":1.8,"v":10},{"s":"C","t":1.825,"v":13},{"s":"C","t":1.85,"v":8},{"s":"C","t":1.875,"v":14},{"s":"C","t":1.9,"v":7},{"s":"C","t":1.925,"v":12},{"s":"C","t":1.95,"v":9},{"s":"C","t":1.975,"v":15},{"s":"C","t":2.0,"v":6},{"s":"C","t":2.025,"v":13},{"s":"C","t":2.05,"v":8},{"s":"C","t":2.075,"v":12},{"s":"C","t":2.1,"v":5},{"s":"C","t":2.125,"v":14},{"s":"C","t":2.15,"v":9},{"s":"C","t":2.175,"v":11},{"s":"C","t":2.2,"v":5},{"s":"C","t":2.225,"v":13},{"s":"C","t":2.25,"v":8},{"s":"C","t":2.275,"v":16},{"s":"C","t":2.3,"v":9},{"s":"C","t":2.325,"v":12},{"s":"C","t":2.35,"v":7},{"s":"C","t":2.375,"v":15},{"s":"C","t":2.4,"v":9},{"s":"C","t":2.425,"v":14},{"s":"C","t":2.45,"v":10},{"s":"C","t":2.475,"v":17},{"s":"C","t":2.5,"v":8},{"s":"C","t":2.525,"v":15},{"s":"C","t":2.55,"v":11},{"s":"C","t":2.575,"v":19},{"s":"C","t":2.6,"v":12},{"s":"C","t":2.625,"v":21},{"s":"C","t":2.65,"v":13},{"s":"C","t":2.675,"v":18},{"s":"C","t":2.7,"v":11},{"s":"C","t":2.725,"v":19},{"s":"C","t":2.75,"v":14},{"s":"C","t":2.775,"v":17},{"s":"C","t":2.8,"v":12},{"s":"C","t":2.825,"v":20},{"s":"C","t":2.85,"v":13},{"s":"C","t":2.875,"v":16},{"s":"C","t":2.9,"v":10},{"s":"C","t":2.925,"v":18},{"s":"C","t":2.95,"v":11},{"s":"C","t":2.975,"v":15},{"s":"C","t":3.0,"v":9},{"s":"C","t":3.025,"v":20},{"s":"C","t":3.05,"v":10},{"s":"C","t":3.075,"v":14},{"s":"C","t":3.1,"v":8},{"s":"C","t":3.125,"v":13},{"s":"C","t":3.15,"v":7},{"s":"C","t":3.175,"v":12},{"s":"C","t":3.2,"v":6},{"s":"C","t":3.225,"v":14},{"s":"C","t":3.25,"v":8},{"s":"C","t":3.275,"v":11},{"s":"C","t":3.3,"v":3},{"s":"C","t":3.325,"v":12},{"s":"C","t":3.35,"v":7},{"s":"C","t":3.375,"v":13},{"s":"C","t":3.4,"v":8},{"s":"C","t":3.425,"v":12},{"s":"C","t":3.45,"v":9},{"s":"C","t":3.475,"v":14},{"s":"C","t":3.5,"v":10},{"s":"C","t":3.525,"v":15},{"s":"C","t":3.55,"v":11},{"s":"C","t":3.575,"v":13},{"s":"C","t":3.6,"v":9},{"s":"C","t":3.625,"v":17},{"s":"C","t":3.65,"v":12},{"s":"C","t":3.675,"v":24},{"s":"C","t":3.7,"v":13},{"s":"C","t":3.725,"v":18},{"s":"C","t":3.75,"v":11},{"s":"C","t":3.775,"v":16},{"s":"C","t":3.8,"v":13},{"s":"C","t":3.825,"v":20},{"s":"C","t":3.85,"v":12},{"s":"C","t":3.875,"v":17},{"s":"C","t":3.9,"v":9},{"s":"C","t":3.925,"v":15},{"s":"C","t":3.95,"v":10},{"s":"C","t":3.975,"v":24},{"s":"C","t":4.0,"v":11},{"s":"C","t":4.025,"v":16},{"s":"C","t":4.05,"v":9},{"s":"C","t":4.075,"v":13},{"s":"C","t":4.1,"v":7},{"s":"C","t":4.125,"v":14},{"s":"C","t":4.15,"v":8},{"s":"C","t":4.175,"v":15},{"s":"C","t":4.2,"v":10},{"s":"C","t":4.225,"v":12},{"s":"C","t":4.25,"v":7},{"s":"C","t":4.275,"v":16},{"s":"C","t":4.3,"v":9},{"s":"C","t":4.325,"v":14},{"s":"C","t":4.35,"v":11},{"s":"C","t":4.375,"v":13},{"s":"C","t":4.4,"v":8},{"s":"C","t":4.425,"v":17},{"s":"C","t":4.45,"v":10},{"s":"C","t":4.475,"v":24},{"s":"C","t":4.5,"v":12},{"s":"C","t":4.525,"v":15},{"s":"C","t":4.55,"v":10},{"s":"C","t":4.575,"v":24},{"s":"C","t":4.6,"v":11},{"s":"C","t":4.625,"v":18},{"s":"C","t":4.65,"v":13},{"s":"C","t":4.675,"v":17},{"s":"C","t":4.7,"v":10},{"s":"C","t":4.725,"v":16},{"s":"C","t":4.75,"v":13},{"s":"C","t":4.775,"v":19},{"s":"C","t":4.8,"v":12},{"s":"C","t":4.825,"v":17},{"s":"C","t":4.85,"v":14},{"s":"C","t":4.875,"v":18},{"s":"C","t":4.9,"v":13},{"s":"C","t":4.925,"v":16},{"s":"C","t":4.95,"v":12},{"s":"C","t":4.975,"v":19},{"s":"C","t":5.0,"v":11},
{"s":"E","t":0,"v":10},{"s":"E","t":0.05,"v":9},{"s":"E","t":0.1,"v":10},{"s":"E","t":0.2,"v":11.5},{"s":"E","t":0.3,"v":11},{"s":"E","t":0.4,"v":9.5},{"s":"E","t":0.5,"v":10},{"s":"E","t":0.6,"v":11},{"s":"E","t":0.7,"v":13},{"s":"E","t":0.8,"v":14.5},{"s":"E","t":0.9,"v":14},{"s":"E","t":0.95,"v":13},{"s":"E","t":1.0,"v":12},{"s":"E","t":1.1,"v":10},{"s":"E","t":1.2,"v":9},{"s":"E","t":1.3,"v":10},{"s":"E","t":1.4,"v":12},{"s":"E","t":1.5,"v":14},{"s":"E","t":1.6,"v":15},{"s":"E","t":1.7,"v":14},{"s":"E","t":1.8,"v":12},{"s":"E","t":1.9,"v":11},{"s":"E","t":2.0,"v":10},{"s":"E","t":2.1,"v":9.5},{"s":"E","t":2.2,"v":9},{"s":"E","t":2.3,"v":9.5},{"s":"E","t":2.4,"v":10},{"s":"E","t":2.5,"v":11},{"s":"E","t":2.6,"v":12},{"s":"E","t":2.7,"v":14},{"s":"E","t":2.8,"v":15},{"s":"E","t":2.9,"v":15},{"s":"E","t":3.0,"v":13},{"s":"E","t":3.1,"v":11},{"s":"E","t":3.2,"v":10},{"s":"E","t":3.4,"v":10},{"s":"E","t":3.5,"v":11},{"s":"E","t":3.6,"v":12},{"s":"E","t":3.7,"v":13},{"s":"E","t":3.8,"v":15},{"s":"E","t":3.9,"v":15.5},{"s":"E","t":4.0,"v":15},{"s":"E","t":4.05,"v":12},{"s":"E","t":4.1,"v":11},{"s":"E","t":4.3,"v":11},{"s":"E","t":4.5,"v":12},{"s":"E","t":4.6,"v":13},{"s":"E","t":4.7,"v":14},{"s":"E","t":4.8,"v":14.5},{"s":"E","t":4.9,"v":14},{"s":"E","t":5.0,"v":15}
],
"e":[
{"s":"O","t":0,"v":89},{"s":"O","t":0.05,"v":90},{"s":"O","t":0.1,"v":93},{"s":"O","t":0.15,"v":97},{"s":"O","t":0.2,"v":99},{"s":"O","t":0.3,"v":100},{"s":"O","t":0.4,"v":99},{"s":"O","t":0.45,"v":97},{"s":"O","t":0.5,"v":93},{"s":"O","t":0.55,"v":90},{"s":"O","t":0.6,"v":80},{"s":"O","t":0.65,"v":65},{"s":"O","t":0.7,"v":45},{"s":"O","t":0.75,"v":25},{"s":"O","t":0.8,"v":16},{"s":"O","t":0.85,"v":20},{"s":"O","t":0.9,"v":45},{"s":"O","t":0.95,"v":75},{"s":"O","t":1.0,"v":93},{"s":"O","t":1.05,"v":97},{"s":"O","t":1.1,"v":94},{"s":"O","t":1.15,"v":88},{"s":"O","t":1.2,"v":80},{"s":"O","t":1.25,"v":70},{"s":"O","t":1.3,"v":62},{"s":"O","t":1.35,"v":55},{"s":"O","t":1.4,"v":48},{"s":"O","t":1.45,"v":44},{"s":"O","t":1.5,"v":43},{"s":"O","t":1.55,"v":45},{"s":"O","t":1.6,"v":60},{"s":"O","t":1.65,"v":82},{"s":"O","t":1.7,"v":90},{"s":"O","t":1.75,"v":80},{"s":"O","t":1.8,"v":62},{"s":"O","t":1.85,"v":58},{"s":"O","t":1.9,"v":62},{"s":"O","t":1.95,"v":72},{"s":"O","t":2.0,"v":82},{"s":"O","t":2.05,"v":85},{"s":"O","t":2.1,"v":88},{"s":"O","t":2.15,"v":92},{"s":"O","t":2.2,"v":95},{"s":"O","t":2.25,"v":98},{"s":"O","t":2.3,"v":99},{"s":"O","t":2.35,"v":97},{"s":"O","t":2.4,"v":90},{"s":"O","t":2.45,"v":85},{"s":"O","t":2.5,"v":78},{"s":"O","t":2.55,"v":70},{"s":"O","t":2.6,"v":65},{"s":"O","t":2.65,"v":63},{"s":"O","t":2.7,"v":68},{"s":"O","t":2.75,"v":57},{"s":"O","t":2.8,"v":35},{"s":"O","t":2.85,"v":12},{"s":"O","t":2.88,"v":10},{"s":"O","t":2.9,"v":11},{"s":"O","t":2.95,"v":30},{"s":"O","t":3.0,"v":55},{"s":"O","t":3.05,"v":80},{"s":"O","t":3.1,"v":95},{"s":"O","t":3.15,"v":99},{"s":"O","t":3.2,"v":100},{"s":"O","t":3.3,"v":100},{"s":"O","t":3.4,"v":99},{"s":"O","t":3.45,"v":97},{"s":"O","t":3.5,"v":92},{"s":"O","t":3.55,"v":89},{"s":"O","t":3.6,"v":86},{"s":"O","t":3.65,"v":75},{"s":"O","t":3.7,"v":60},{"s":"O","t":3.75,"v":40},{"s":"O","t":3.8,"v":25},{"s":"O","t":3.85,"v":12},{"s":"O","t":3.9,"v":8},{"s":"O","t":3.95,"v":9},{"s":"O","t":4.0,"v":25},{"s":"O","t":4.05,"v":55},{"s":"O","t":4.1,"v":80},{"s":"O","t":4.15,"v":94},{"s":"O","t":4.2,"v":97},{"s":"O","t":4.25,"v":97},{"s":"O","t":4.3,"v":96},{"s":"O","t":4.35,"v":98},{"s":"O","t":4.4,"v":98},{"s":"O","t":4.45,"v":96},{"s":"O","t":4.5,"v":94},{"s":"O","t":4.55,"v":92},{"s":"O","t":4.6,"v":85},{"s":"O","t":4.65,"v":75},{"s":"O","t":4.7,"v":60},{"s":"O","t":4.75,"v":45},{"s":"O","t":4.8,"v":30},{"s":"O","t":4.85,"v":20},{"s":"O","t":4.9,"v":17},{"s":"O","t":4.95,"v":30},{"s":"O","t":5.0,"v":58},
{"s":"C","t":0,"v":72},{"s":"C","t":0.025,"v":85},{"s":"C","t":0.05,"v":80},{"s":"C","t":0.075,"v":89},{"s":"C","t":0.1,"v":82},{"s":"C","t":0.125,"v":90},{"s":"C","t":0.15,"v":80},{"s":"C","t":0.175,"v":87},{"s":"C","t":0.2,"v":78},{"s":"C","t":0.225,"v":88},{"s":"C","t":0.25,"v":81},{"s":"C","t":0.275,"v":86},{"s":"C","t":0.3,"v":77},{"s":"C","t":0.325,"v":85},{"s":"C","t":0.35,"v":79},{"s":"C","t":0.375,"v":84},{"s":"C","t":0.4,"v":78},{"s":"C","t":0.425,"v":86},{"s":"C","t":0.45,"v":80},{"s":"C","t":0.475,"v":84},{"s":"C","t":0.5,"v":81},{"s":"C","t":0.525,"v":78},{"s":"C","t":0.55,"v":66},{"s":"C","t":0.575,"v":60},{"s":"C","t":0.6,"v":68},{"s":"C","t":0.625,"v":74},{"s":"C","t":0.65,"v":65},{"s":"C","t":0.675,"v":70},{"s":"C","t":0.7,"v":55},{"s":"C","t":0.725,"v":48},{"s":"C","t":0.75,"v":52},{"s":"C","t":0.775,"v":40},{"s":"C","t":0.8,"v":30},{"s":"C","t":0.825,"v":26},{"s":"C","t":0.85,"v":35},{"s":"C","t":0.875,"v":40},{"s":"C","t":0.9,"v":47},{"s":"C","t":0.925,"v":55},{"s":"C","t":0.95,"v":62},{"s":"C","t":0.975,"v":68},{"s":"C","t":1.0,"v":67},{"s":"C","t":1.025,"v":76},{"s":"C","t":1.05,"v":82},{"s":"C","t":1.075,"v":86},{"s":"C","t":1.1,"v":80},{"s":"C","t":1.125,"v":88},{"s":"C","t":1.15,"v":84},{"s":"C","t":1.175,"v":87},{"s":"C","t":1.2,"v":83},{"s":"C","t":1.225,"v":91},{"s":"C","t":1.25,"v":84},{"s":"C","t":1.275,"v":88},{"s":"C","t":1.3,"v":80},{"s":"C","t":1.325,"v":84},{"s":"C","t":1.35,"v":78},{"s":"C","t":1.375,"v":76},{"s":"C","t":1.4,"v":70},{"s":"C","t":1.425,"v":66},{"s":"C","t":1.45,"v":62},{"s":"C","t":1.475,"v":55},{"s":"C","t":1.5,"v":48},{"s":"C","t":1.525,"v":45},{"s":"C","t":1.55,"v":40},{"s":"C","t":1.575,"v":37},{"s":"C","t":1.6,"v":44},{"s":"C","t":1.625,"v":38},{"s":"C","t":1.65,"v":42},{"s":"C","t":1.675,"v":46},{"s":"C","t":1.7,"v":50},{"s":"C","t":1.725,"v":48},{"s":"C","t":1.75,"v":56},{"s":"C","t":1.775,"v":60},{"s":"C","t":1.8,"v":66},{"s":"C","t":1.825,"v":72},{"s":"C","t":1.85,"v":78},{"s":"C","t":1.875,"v":84},{"s":"C","t":1.9,"v":82},{"s":"C","t":1.925,"v":88},{"s":"C","t":1.95,"v":81},{"s":"C","t":1.975,"v":86},{"s":"C","t":2.0,"v":80},{"s":"C","t":2.025,"v":88},{"s":"C","t":2.05,"v":84},{"s":"C","t":2.075,"v":90},{"s":"C","t":2.1,"v":82},{"s":"C","t":2.125,"v":89},{"s":"C","t":2.15,"v":84},{"s":"C","t":2.175,"v":87},{"s":"C","t":2.2,"v":85},{"s":"C","t":2.225,"v":90},{"s":"C","t":2.25,"v":83},{"s":"C","t":2.275,"v":88},{"s":"C","t":2.3,"v":84},{"s":"C","t":2.325,"v":87},{"s":"C","t":2.35,"v":82},{"s":"C","t":2.375,"v":90},{"s":"C","t":2.4,"v":80},{"s":"C","t":2.425,"v":84},{"s":"C","t":2.45,"v":78},{"s":"C","t":2.475,"v":74},{"s":"C","t":2.5,"v":76},{"s":"C","t":2.525,"v":70},{"s":"C","t":2.55,"v":66},{"s":"C","t":2.575,"v":68},{"s":"C","t":2.6,"v":60},{"s":"C","t":2.625,"v":65},{"s":"C","t":2.65,"v":56},{"s":"C","t":2.675,"v":55},{"s":"C","t":2.7,"v":45},{"s":"C","t":2.725,"v":52},{"s":"C","t":2.75,"v":48},{"s":"C","t":2.775,"v":40},{"s":"C","t":2.8,"v":44},{"s":"C","t":2.825,"v":36},{"s":"C","t":2.85,"v":38},{"s":"C","t":2.875,"v":32},{"s":"C","t":2.9,"v":42},{"s":"C","t":2.925,"v":50},{"s":"C","t":2.95,"v":56},{"s":"C","t":2.975,"v":65},{"s":"C","t":3.0,"v":70},{"s":"C","t":3.025,"v":75},{"s":"C","t":3.05,"v":80},{"s":"C","t":3.075,"v":78},{"s":"C","t":3.1,"v":84},{"s":"C","t":3.125,"v":80},{"s":"C","t":3.15,"v":86},{"s":"C","t":3.175,"v":79},{"s":"C","t":3.2,"v":85},{"s":"C","t":3.225,"v":81},{"s":"C","t":3.25,"v":88},{"s":"C","t":3.275,"v":80},{"s":"C","t":3.3,"v":86},{"s":"C","t":3.325,"v":82},{"s":"C","t":3.35,"v":87},{"s":"C","t":3.375,"v":80},{"s":"C","t":3.4,"v":84},{"s":"C","t":3.425,"v":79},{"s":"C","t":3.45,"v":83},{"s":"C","t":3.475,"v":76},{"s":"C","t":3.5,"v":80},{"s":"C","t":3.525,"v":75},{"s":"C","t":3.55,"v":78},{"s":"C","t":3.575,"v":74},{"s":"C","t":3.6,"v":72},{"s":"C","t":3.625,"v":66},{"s":"C","t":3.65,"v":68},{"s":"C","t":3.675,"v":58},{"s":"C","t":3.7,"v":60},{"s":"C","t":3.725,"v":50},{"s":"C","t":3.75,"v":45},{"s":"C","t":3.775,"v":38},{"s":"C","t":3.8,"v":35},{"s":"C","t":3.825,"v":30},{"s":"C","t":3.85,"v":28},{"s":"C","t":3.875,"v":25},{"s":"C","t":3.9,"v":32},{"s":"C","t":3.925,"v":38},{"s":"C","t":3.95,"v":35},{"s":"C","t":3.975,"v":44},{"s":"C","t":4.0,"v":48},{"s":"C","t":4.025,"v":57},{"s":"C","t":4.05,"v":62},{"s":"C","t":4.075,"v":70},{"s":"C","t":4.1,"v":74},{"s":"C","t":4.125,"v":80},{"s":"C","t":4.15,"v":77},{"s":"C","t":4.175,"v":83},{"s":"C","t":4.2,"v":76},{"s":"C","t":4.225,"v":80},{"s":"C","t":4.25,"v":73},{"s":"C","t":4.275,"v":78},{"s":"C","t":4.3,"v":72},{"s":"C","t":4.325,"v":76},{"s":"C","t":4.35,"v":71},{"s":"C","t":4.375,"v":77},{"s":"C","t":4.4,"v":70},{"s":"C","t":4.425,"v":74},{"s":"C","t":4.45,"v":72},{"s":"C","t":4.475,"v":68},{"s":"C","t":4.5,"v":70},{"s":"C","t":4.525,"v":62},{"s":"C","t":4.55,"v":64},{"s":"C","t":4.575,"v":56},{"s":"C","t":4.6,"v":60},{"s":"C","t":4.625,"v":50},{"s":"C","t":4.65,"v":52},{"s":"C","t":4.675,"v":45},{"s":"C","t":4.7,"v":42},{"s":"C","t":4.725,"v":36},{"s":"C","t":4.75,"v":32},{"s":"C","t":4.775,"v":28},{"s":"C","t":4.8,"v":25},{"s":"C","t":4.825,"v":22},{"s":"C","t":4.85,"v":26},{"s":"C","t":4.875,"v":17},{"s":"C","t":4.9,"v":20},{"s":"C","t":4.925,"v":24},{"s":"C","t":4.95,"v":30},{"s":"C","t":4.975,"v":38},{"s":"C","t":5.0,"v":46},
{"s":"E","t":0,"v":80},{"s":"E","t":0.03,"v":84},{"s":"E","t":0.07,"v":86},{"s":"E","t":0.1,"v":85.5},{"s":"E","t":0.15,"v":84},{"s":"E","t":0.3,"v":84},{"s":"E","t":0.35,"v":85},{"s":"E","t":0.45,"v":85.5},{"s":"E","t":0.5,"v":85},{"s":"E","t":0.55,"v":83},{"s":"E","t":0.6,"v":80},{"s":"E","t":0.65,"v":73},{"s":"E","t":0.7,"v":63},{"s":"E","t":0.75,"v":55},{"s":"E","t":0.8,"v":42},{"s":"E","t":0.85,"v":37},{"s":"E","t":0.9,"v":40},{"s":"E","t":0.95,"v":55},{"s":"E","t":1.0,"v":68},{"s":"E","t":1.05,"v":75},{"s":"E","t":1.1,"v":82},{"s":"E","t":1.15,"v":85},{"s":"E","t":1.2,"v":85.5},{"s":"E","t":1.3,"v":85.5},{"s":"E","t":1.35,"v":83},{"s":"E","t":1.4,"v":76},{"s":"E","t":1.45,"v":68},{"s":"E","t":1.5,"v":58},{"s":"E","t":1.55,"v":45},{"s":"E","t":1.6,"v":39},{"s":"E","t":1.65,"v":40},{"s":"E","t":1.7,"v":45},{"s":"E","t":1.75,"v":55},{"s":"E","t":1.8,"v":65},{"s":"E","t":1.85,"v":75},{"s":"E","t":1.9,"v":80},{"s":"E","t":1.95,"v":84},{"s":"E","t":2.0,"v":85},{"s":"E","t":2.1,"v":85},{"s":"E","t":2.2,"v":86},{"s":"E","t":2.3,"v":86.5},{"s":"E","t":2.4,"v":86},{"s":"E","t":2.45,"v":83},{"s":"E","t":2.5,"v":78},{"s":"E","t":2.55,"v":72},{"s":"E","t":2.6,"v":65},{"s":"E","t":2.65,"v":56},{"s":"E","t":2.7,"v":55},{"s":"E","t":2.75,"v":50},{"s":"E","t":2.8,"v":42},{"s":"E","t":2.85,"v":40},{"s":"E","t":2.9,"v":43},{"s":"E","t":2.95,"v":55},{"s":"E","t":3.0,"v":68},{"s":"E","t":3.05,"v":77},{"s":"E","t":3.1,"v":83},{"s":"E","t":3.2,"v":83.5},{"s":"E","t":3.4,"v":83.5},{"s":"E","t":3.5,"v":80},{"s":"E","t":3.55,"v":78},{"s":"E","t":3.6,"v":76},{"s":"E","t":3.65,"v":70},{"s":"E","t":3.7,"v":62},{"s":"E","t":3.75,"v":48},{"s":"E","t":3.8,"v":38},{"s":"E","t":3.85,"v":30},{"s":"E","t":3.9,"v":25},{"s":"E","t":3.95,"v":30},{"s":"E","t":4.0,"v":42},{"s":"E","t":4.05,"v":58},{"s":"E","t":4.1,"v":70},{"s":"E","t":4.15,"v":76},{"s":"E","t":4.3,"v":76},{"s":"E","t":4.45,"v":75},{"s":"E","t":4.5,"v":72},{"s":"E","t":4.55,"v":65},{"s":"E","t":4.6,"v":58},{"s":"E","t":4.65,"v":50},{"s":"E","t":4.7,"v":40},{"s":"E","t":4.75,"v":32},{"s":"E","t":4.8,"v":25},{"s":"E","t":4.85,"v":22},{"s":"E","t":4.9,"v":20},{"s":"E","t":4.95,"v":28},{"s":"E","t":5.0,"v":40}
]
},
"vconcat":[
{"hconcat":[
 {"width":1,"height":1,"view":{"stroke":null},"data":{"values":[{}]},"mark":{"type":"point","opacity":0}},
 {"hconcat":[
 {"width":469,"height":369,"view":{"stroke":"black","strokeWidth":2.5},
  "title":{"text":"(a)","anchor":"start","frame":"group","align":"right","dx":-6,"offset":-1,"fontSize":20},
  "data":{"name":"a"},
  "resolve":{"axis":{"x":"independent","y":"independent"}},
  "layer":[
   {"transform":[{"filter":"datum.s=='O'"}],"mark":{"type":"line","strokeWidth":3,"clip":true},
    "encoding":{"x":{"field":"t","type":"quantitative","scale":{"domain":[0,5],"nice":false},"axis":{"orient":"bottom","values":[0,1,2,3,4,5],"format":"d","title":"Time [days]","labelFontSize":20,"titleFontSize":20,"tickSize":-5,"labelPadding":14,"titlePadding":2}},
     "y":{"field":"v","type":"quantitative","scale":{"domain":[0,8.5],"nice":false},"axis":{"orient":"left","values":[0,1,2,3,4,5,6,7,8],"format":"d","title":"Area fraction [%]","labelFontSize":20,"titleFontSize":20,"tickSize":-5,"labelPadding":11,"titlePadding":4}},
     "color":{"field":"s","type":"nominal","scale":{"domain":["O","C","E"],"range":["#0000ff","#00ff00","#ff0000"]},"legend":{"title":null,"orient":"top-left","offset":7,"labelExpr":"datum.label=='O'?'Observations':datum.label=='C'?'10x10 CMCs 25 clusters ⟨ω⟩':'Expected values of CMC'","labelFontSize":20,"labelFont":"Liberation Sans","labelColor":"black","symbolType":"M-1.5,0H1.5","symbolSize":784,"symbolStrokeWidth":3,"strokeColor":"black","fillColor":"white","padding":4,"rowPadding":-3,"labelLimit":400,"labelOffset":12,"symbolOffset":8}},
     "strokeDash":{"field":"s","type":"nominal","scale":{"domain":["O","C","E"],"range":[[9,5],[1,0],[9,3,2,3]]},"legend":{"title":null,"orient":"top-left","offset":7,"labelExpr":"datum.label=='O'?'Observations':datum.label=='C'?'10x10 CMCs 25 clusters ⟨ω⟩':'Expected values of CMC'","labelFontSize":20,"labelFont":"Liberation Sans","labelColor":"black","symbolType":"M-1.5,0H1.5","symbolSize":784,"symbolStrokeWidth":3,"strokeColor":"black","fillColor":"white","padding":4,"rowPadding":-3,"labelLimit":400,"labelOffset":12,"symbolOffset":8}}}},
   {"transform":[{"filter":"datum.s=='C'"}],"mark":{"type":"line","strokeWidth":3,"clip":true},
    "encoding":{"x":{"field":"t","type":"quantitative","scale":{"domain":[0,5],"nice":false},"axis":null},"y":{"field":"v","type":"quantitative","scale":{"domain":[0,8.5],"nice":false},"axis":null},
     "color":{"field":"s","type":"nominal","scale":{"domain":["O","C","E"],"range":["#0000ff","#00ff00","#ff0000"]},"legend":{"title":null,"orient":"top-left","offset":7,"labelExpr":"datum.label=='O'?'Observations':datum.label=='C'?'10x10 CMCs 25 clusters ⟨ω⟩':'Expected values of CMC'","labelFontSize":20,"labelFont":"Liberation Sans","labelColor":"black","symbolType":"M-1.5,0H1.5","symbolSize":784,"symbolStrokeWidth":3,"strokeColor":"black","fillColor":"white","padding":4,"rowPadding":-3,"labelLimit":400,"labelOffset":12,"symbolOffset":8}},
     "strokeDash":{"field":"s","type":"nominal","scale":{"domain":["O","C","E"],"range":[[9,5],[1,0],[9,3,2,3]]},"legend":{"title":null,"orient":"top-left","offset":7,"labelExpr":"datum.label=='O'?'Observations':datum.label=='C'?'10x10 CMCs 25 clusters ⟨ω⟩':'Expected values of CMC'","labelFontSize":20,"labelFont":"Liberation Sans","labelColor":"black","symbolType":"M-1.5,0H1.5","symbolSize":784,"symbolStrokeWidth":3,"strokeColor":"black","fillColor":"white","padding":4,"rowPadding":-3,"labelLimit":400,"labelOffset":12,"symbolOffset":8}}}},
   {"transform":[{"filter":"datum.s=='E'"}],"mark":{"type":"line","strokeWidth":3,"clip":true},
    "encoding":{"x":{"field":"t","type":"quantitative","scale":{"domain":[0,5],"nice":false},"axis":{"orient":"top","values":[0,1,2,3,4,5],"labels":false,"title":null,"tickSize":-5}},"y":{"field":"v","type":"quantitative","scale":{"domain":[0,8.5],"nice":false},"axis":{"orient":"right","values":[0,1,2,3,4,5,6,7,8],"labels":false,"title":null,"tickSize":-5}},
     "color":{"field":"s","type":"nominal","scale":{"domain":["O","C","E"],"range":["#0000ff","#00ff00","#ff0000"]},"legend":{"title":null,"orient":"top-left","offset":7,"labelExpr":"datum.label=='O'?'Observations':datum.label=='C'?'10x10 CMCs 25 clusters ⟨ω⟩':'Expected values of CMC'","labelFontSize":20,"labelFont":"Liberation Sans","labelColor":"black","symbolType":"M-1.5,0H1.5","symbolSize":784,"symbolStrokeWidth":3,"strokeColor":"black","fillColor":"white","padding":4,"rowPadding":-3,"labelLimit":400,"labelOffset":12,"symbolOffset":8}},
     "strokeDash":{"field":"s","type":"nominal","scale":{"domain":["O","C","E"],"range":[[9,5],[1,0],[9,3,2,3]]},"legend":{"title":null,"orient":"top-left","offset":7,"labelExpr":"datum.label=='O'?'Observations':datum.label=='C'?'10x10 CMCs 25 clusters ⟨ω⟩':'Expected values of CMC'","labelFontSize":20,"labelFont":"Liberation Sans","labelColor":"black","symbolType":"M-1.5,0H1.5","symbolSize":784,"symbolStrokeWidth":3,"strokeColor":"black","fillColor":"white","padding":4,"rowPadding":-3,"labelLimit":400,"labelOffset":12,"symbolOffset":8}}}},
   {"data":{"values":[{"t":1.045,"v":5,"txt":"deep convective"}]},"mark":{"type":"text","align":"left","baseline":"middle","fontSize":20,"color":"black"},
    "encoding":{"x":{"field":"t","type":"quantitative","scale":{"domain":[0,5],"nice":false},"axis":null},"y":{"field":"v","type":"quantitative","scale":{"domain":[0,8.5],"nice":false},"axis":null},"text":{"field":"txt"}}}
  ]},
 {"width":469,"height":369,"view":{"stroke":"black","strokeWidth":2.5},
  "title":{"text":"(b)","anchor":"start","frame":"group","align":"right","dx":-6,"offset":-1,"fontSize":20},
  "data":{"name":"b"},
  "resolve":{"axis":{"x":"independent","y":"independent"}},
  "layer":[
   {"transform":[{"filter":"datum.s=='O'"}],"mark":{"type":"line","strokeWidth":3,"clip":true,"color":"#0000ff","strokeDash":[9,5]},
    "encoding":{"x":{"field":"t","type":"quantitative","scale":{"domain":[0,5],"nice":false},"axis":{"orient":"bottom","values":[0,1,2,3,4,5],"format":"d","title":"Time [days]","labelFontSize":20,"titleFontSize":20,"tickSize":-5,"labelPadding":14,"titlePadding":2}},
     "y":{"field":"v","type":"quantitative","scale":{"domain":[0,4],"nice":false},"axis":{"orient":"left","values":[0,1,2,3,4],"format":"d","title":"Area fraction [%]","labelFontSize":20,"titleFontSize":20,"tickSize":-5,"labelPadding":11,"titlePadding":4}}}},
   {"transform":[{"filter":"datum.s=='C'"}],"mark":{"type":"line","strokeWidth":3,"clip":true,"color":"#00ff00"},
    "encoding":{"x":{"field":"t","type":"quantitative","scale":{"domain":[0,5],"nice":false},"axis":null},"y":{"field":"v","type":"quantitative","scale":{"domain":[0,4],"nice":false},"axis":null}}},
   {"transform":[{"filter":"datum.s=='E'"}],"mark":{"type":"line","strokeWidth":3,"clip":true,"color":"#ff0000","strokeDash":[9,3,2,3]},
    "encoding":{"x":{"field":"t","type":"quantitative","scale":{"domain":[0,5],"nice":false},"axis":{"orient":"top","values":[0,1,2,3,4,5],"labels":false,"title":null,"tickSize":-5}},"y":{"field":"v","type":"quantitative","scale":{"domain":[0,4],"nice":false},"axis":{"orient":"right","values":[0,1,2,3,4],"labels":false,"title":null,"tickSize":-5}}}},
   {"data":{"values":[{"t":1.045,"v":2.48,"txt":"strong congestus"}]},"mark":{"type":"text","align":"left","baseline":"middle","fontSize":20,"color":"black"},
    "encoding":{"x":{"field":"t","type":"quantitative","scale":{"domain":[0,5],"nice":false},"axis":null},"y":{"field":"v","type":"quantitative","scale":{"domain":[0,4],"nice":false},"axis":null},"text":{"field":"txt"}}}
  ]}
 ],"spacing":96,"resolve":{"scale":{"x":"independent","y":"independent","color":"independent","strokeDash":"independent"}}}
 ],"spacing":43,"resolve":{"scale":{"x":"independent","y":"independent","color":"independent","strokeDash":"independent"}}},
{"hconcat":[
 {"width":346,"height":271,
  "title":{"text":"(c)","anchor":"start","frame":"group","align":"right","dx":-5,"offset":1,"fontSize":15},
  "data":{"name":"c"},
  "resolve":{"axis":{"x":"independent","y":"independent"}},
  "layer":[
   {"transform":[{"filter":"datum.s=='O'"}],"mark":{"type":"line","strokeWidth":2,"clip":true,"color":"#0000ff","strokeDash":[6,4]},
    "encoding":{"x":{"field":"t","type":"quantitative","scale":{"domain":[0,5],"nice":false},"axis":{"orient":"bottom","values":[0,1,2,3,4,5],"format":"d","title":"Time [days]","labelFontSize":15,"titleFontSize":15,"tickSize":-4,"labelPadding":11,"titlePadding":1}},
     "y":{"field":"v","type":"quantitative","scale":{"domain":[0,100],"nice":false},"axis":{"orient":"left","values":[0,10,20,30,40,50,60,70,80,90,100],"format":"d","title":"Area fraction [%]","labelFontSize":15,"titleFontSize":15,"tickSize":-4,"labelPadding":7,"titlePadding":4}}}},
   {"transform":[{"filter":"datum.s=='C'"}],"mark":{"type":"line","strokeWidth":2,"clip":true,"color":"#00ff00"},
    "encoding":{"x":{"field":"t","type":"quantitative","scale":{"domain":[0,5],"nice":false},"axis":null},"y":{"field":"v","type":"quantitative","scale":{"domain":[0,100],"nice":false},"axis":null}}},
   {"transform":[{"filter":"datum.s=='E'"}],"mark":{"type":"line","strokeWidth":2,"clip":true,"color":"#ff0000","strokeDash":[7,3,2,3]},
    "encoding":{"x":{"field":"t","type":"quantitative","scale":{"domain":[0,5],"nice":false},"axis":{"orient":"top","values":[0,1,2,3,4,5],"labels":false,"title":null,"tickSize":-4}},"y":{"field":"v","type":"quantitative","scale":{"domain":[0,100],"nice":false},"axis":{"orient":"right","values":[0,10,20,30,40,50,60,70,80,90,100],"labels":false,"title":null,"tickSize":-4}}}},
   {"data":{"values":[{"t":1.055,"v":55,"txt":"stratiform"}]},"mark":{"type":"text","align":"left","baseline":"middle","fontSize":15,"color":"black"},
    "encoding":{"x":{"field":"t","type":"quantitative","scale":{"domain":[0,5],"nice":false},"axis":null},"y":{"field":"v","type":"quantitative","scale":{"domain":[0,100],"nice":false},"axis":null},"text":{"field":"txt"}}}
  ]},
 {"width":346,"height":271,
  "title":{"text":"(d)","anchor":"start","frame":"group","align":"right","dx":-5,"offset":1,"fontSize":15},
  "data":{"name":"d"},
  "resolve":{"axis":{"x":"independent","y":"independent"}},
  "layer":[
   {"transform":[{"filter":"datum.s=='O'"}],"mark":{"type":"line","strokeWidth":2,"clip":true,"color":"#0000ff","strokeDash":[6,4]},
    "encoding":{"x":{"field":"t","type":"quantitative","scale":{"domain":[0,5],"nice":false},"axis":{"orient":"bottom","values":[0,1,2,3,4,5],"format":"d","title":"Time [days]","labelFontSize":15,"titleFontSize":15,"tickSize":-4,"labelPadding":11,"titlePadding":1}},
     "y":{"field":"v","type":"quantitative","scale":{"domain":[0,100],"nice":false},"axis":{"orient":"left","values":[0,10,20,30,40,50,60,70,80,90,100],"format":"d","title":"Area fraction [%]","labelFontSize":15,"titleFontSize":15,"tickSize":-4,"labelPadding":7,"titlePadding":4}}}},
   {"transform":[{"filter":"datum.s=='C'"}],"mark":{"type":"line","strokeWidth":2,"clip":true,"color":"#00ff00"},
    "encoding":{"x":{"field":"t","type":"quantitative","scale":{"domain":[0,5],"nice":false},"axis":null},"y":{"field":"v","type":"quantitative","scale":{"domain":[0,100],"nice":false},"axis":null}}},
   {"transform":[{"filter":"datum.s=='E'"}],"mark":{"type":"line","strokeWidth":2,"clip":true,"color":"#ff0000","strokeDash":[7,3,2,3]},
    "encoding":{"x":{"field":"t","type":"quantitative","scale":{"domain":[0,5],"nice":false},"axis":{"orient":"top","values":[0,1,2,3,4,5],"labels":false,"title":null,"tickSize":-4}},"y":{"field":"v","type":"quantitative","scale":{"domain":[0,100],"nice":false},"axis":{"orient":"right","values":[0,10,20,30,40,50,60,70,80,90,100],"labels":false,"title":null,"tickSize":-4}}}},
   {"data":{"values":[{"t":1.04,"v":55,"txt":"moderate congestus"}]},"mark":{"type":"text","align":"left","baseline":"middle","fontSize":15,"color":"black"},
    "encoding":{"x":{"field":"t","type":"quantitative","scale":{"domain":[0,5],"nice":false},"axis":null},"y":{"field":"v","type":"quantitative","scale":{"domain":[0,100],"nice":false},"axis":null},"text":{"field":"txt"}}}
  ]},
 {"width":346,"height":271,
  "title":{"text":"(e)","anchor":"start","frame":"group","align":"right","dx":-5,"offset":1,"fontSize":15},
  "data":{"name":"e"},
  "resolve":{"axis":{"x":"independent","y":"independent"}},
  "layer":[
   {"transform":[{"filter":"datum.s=='O'"}],"mark":{"type":"line","strokeWidth":2,"clip":true,"color":"#0000ff","strokeDash":[6,4]},
    "encoding":{"x":{"field":"t","type":"quantitative","scale":{"domain":[0,5],"nice":false},"axis":{"orient":"bottom","values":[0,1,2,3,4,5],"format":"d","title":"Time [days]","labelFontSize":15,"titleFontSize":15,"tickSize":-4,"labelPadding":11,"titlePadding":1}},
     "y":{"field":"v","type":"quantitative","scale":{"domain":[0,100],"nice":false},"axis":{"orient":"left","values":[0,10,20,30,40,50,60,70,80,90,100],"format":"d","title":"Area fraction [%]","labelFontSize":15,"titleFontSize":15,"tickSize":-4,"labelPadding":7,"titlePadding":4}}}},
   {"transform":[{"filter":"datum.s=='C'"}],"mark":{"type":"line","strokeWidth":2,"clip":true,"color":"#00ff00"},
    "encoding":{"x":{"field":"t","type":"quantitative","scale":{"domain":[0,5],"nice":false},"axis":null},"y":{"field":"v","type":"quantitative","scale":{"domain":[0,100],"nice":false},"axis":null}}},
   {"transform":[{"filter":"datum.s=='E'"}],"mark":{"type":"line","strokeWidth":2,"clip":true,"color":"#ff0000","strokeDash":[7,3,2,3]},
    "encoding":{"x":{"field":"t","type":"quantitative","scale":{"domain":[0,5],"nice":false},"axis":{"orient":"top","values":[0,1,2,3,4,5],"labels":false,"title":null,"tickSize":-4}},"y":{"field":"v","type":"quantitative","scale":{"domain":[0,100],"nice":false},"axis":{"orient":"right","values":[0,10,20,30,40,50,60,70,80,90,100],"labels":false,"title":null,"tickSize":-4}}}},
   {"data":{"values":[{"t":1.04,"v":20,"txt":"clear sky"}]},"mark":{"type":"text","align":"left","baseline":"middle","fontSize":15,"color":"black"},
    "encoding":{"x":{"field":"t","type":"quantitative","scale":{"domain":[0,5],"nice":false},"axis":null},"y":{"field":"v","type":"quantitative","scale":{"domain":[0,100],"nice":false},"axis":null},"text":{"field":"txt"}}}
  ]}
 ],"spacing":55,"resolve":{"scale":{"x":"independent","y":"independent"}}}
],
"spacing":1,
"resolve":{"scale":{"x":"independent","y":"independent","color":"independent","strokeDash":"independent"}}
}
